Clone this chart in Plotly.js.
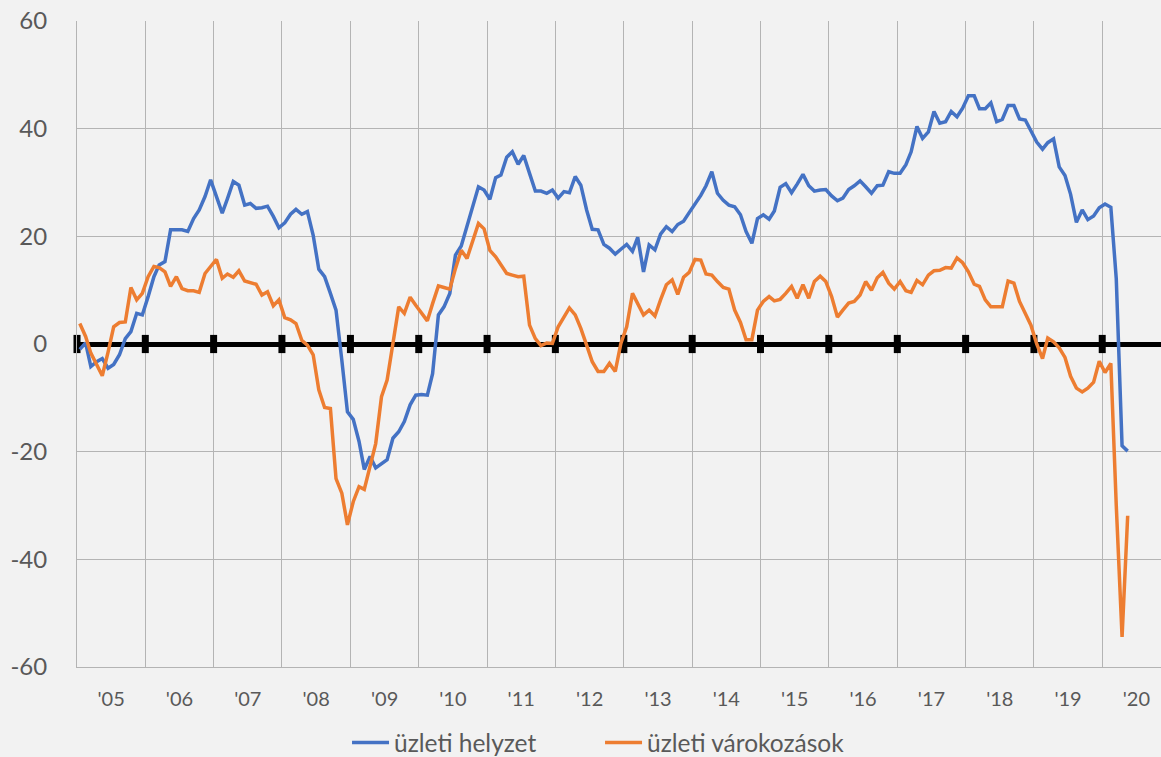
<!DOCTYPE html>
<html>
<head>
<meta charset="utf-8">
<script src="https://cdn.plot.ly/plotly-3.0.1.min.js"></script>
<style>html,body{margin:0;padding:0;background:#f2f2f2}</style>
</head>
<body>
<div id="myDiv" style="width:1161px;height:757px"></div>
<script>
// monthly data, Jan 2005 .. May 2020
var startYear = 2005;

var helyzet = [
  -1.0, 0.2, -4.2, -3.3, -2.7, -4.5, -3.8, -2.0, 1.0, 2.3, 5.7, 5.4,
  8.8, 12.5, 14.7, 15.3, 21.2, 21.2, 21.2, 20.9, 23.3, 24.9, 27.4, 30.5,
  27.3, 24.3, 27.0, 30.2, 29.5, 25.8, 26.1, 25.2, 25.3, 25.6, 23.7, 21.6,
  22.5, 24.1, 25.0, 24.1, 24.6, 20.2, 13.9, 12.5, 9.4, 6.3, -3.0, -12.6,
  -14.0, -18.1, -23.3, -20.9, -23.0, -22.3, -21.5, -17.5, -16.3, -14.4, -11.3, -9.5,
  -9.4, -9.5, -5.5, 5.4, 6.9, 9.4, 16.5, 18.2, 21.8, 25.5, 29.2, 28.6,
  26.9, 30.9, 31.4, 34.7, 35.7, 33.4, 35.0, 31.7, 28.4, 28.4, 28.0, 28.6,
  27.1, 28.3, 28.1, 31.1, 29.5, 24.9, 21.3, 21.2, 18.5, 17.8, 16.7, 17.6,
  18.5, 17.2, 19.8, 13.4, 18.4, 17.5, 20.4, 21.8, 20.9, 22.2, 22.8, 24.4,
  25.9, 27.6, 29.4, 32.0, 28.0, 26.7, 25.8, 25.5, 24.0, 20.9, 18.7, 23.3,
  24.0, 23.2, 24.7, 29.1, 29.8, 28.1, 29.7, 31.5, 29.4, 28.4, 28.6, 28.7,
  27.5, 26.6, 27.1, 28.7, 29.4, 30.3, 29.2, 28.0, 29.4, 29.5, 32.0, 31.7,
  31.7, 33.3, 35.7, 40.4, 38.2, 39.4, 43.2, 41.0, 41.3, 43.2, 42.2, 43.8,
  46.1, 46.1, 43.7, 43.7, 44.8, 41.3, 41.7, 44.3, 44.3, 41.8, 41.6, 39.5,
  37.5, 36.2, 37.4, 38.1, 32.9, 31.3, 27.8, 22.6, 24.9, 23.1, 23.8, 25.3,
  26.0, 25.4, 12.1, -18.9, -19.9
];

var varakozasok = [
  3.8, 1.4, -1.7, -3.9, -5.9, -1.5, 3.2, 4.0, 4.1, 10.5, 8.2, 9.4,
  12.5, 14.4, 14.2, 13.4, 10.7, 12.5, 10.3, 9.9, 9.9, 9.6, 13.1, 14.4,
  15.7, 12.2, 13.0, 12.4, 13.6, 11.7, 11.4, 11.1, 9.1, 9.7, 7.1, 8.2,
  4.9, 4.5, 3.8, 0.7, -0.2, -2.0, -8.5, -11.8, -12.0, -25.0, -27.7, -33.6,
  -29.3, -26.5, -27.0, -22.5, -18.5, -9.8, -6.7, 0.1, 6.9, 5.7, 8.7, 7.2,
  5.7, 4.3, 7.5, 10.8, 10.5, 10.2, 14.0, 17.4, 15.9, 19.3, 22.4, 21.4,
  17.4, 16.2, 14.6, 13.1, 12.8, 12.5, 12.6, 3.5, 1.0, -0.3, 0.2, 0.1,
  3.2, 5.1, 6.7, 5.4, 2.9, -0.2, -3.3, -5.1, -5.1, -3.6, -5.1, 0.1,
  3.2, 9.4, 7.6, 5.4, 6.3, 5.2, 8.2, 11.0, 11.9, 9.2, 12.4, 13.3,
  15.7, 15.6, 13.0, 12.8, 11.6, 10.5, 10.2, 6.3, 4.0, 0.8, 0.8, 6.3,
  7.9, 8.8, 8.0, 8.3, 9.4, 10.7, 8.5, 11.0, 8.5, 11.6, 12.6, 11.6,
  8.8, 5.0, 6.3, 7.6, 7.9, 9.1, 11.6, 10.0, 12.3, 13.3, 11.3, 10.2,
  11.6, 9.9, 9.6, 11.8, 11.0, 12.8, 13.6, 13.7, 14.2, 14.1, 16.0, 15.1,
  13.4, 11.1, 10.7, 8.2, 6.9, 6.9, 6.9, 11.7, 11.3, 7.9, 5.8, 3.5,
  0.0, -2.7, 1.1, 0.4, -0.7, -2.5, -6.0, -8.2, -8.9, -8.2, -7.1, -3.2,
  -5.3, -3.6, -30.0, -54.4, -31.9
];

// year boundaries, marked on the zero line
var yearMarks = ['2005-01-01', '2006-01-01', '2007-01-01', '2008-01-01', '2009-01-01',
  '2010-01-01', '2011-01-01', '2012-01-01', '2013-01-01', '2014-01-01', '2015-01-01',
  '2016-01-01', '2017-01-01', '2018-01-01', '2019-01-01', '2020-01-01'];
var yearMarkVals = yearMarks.map(function () { return 0; });

var yTicks = [-60, -40, -20, 0, 20, 40, 60];
var yTickText = ['-60', '-40', '-20', '0', '20', '40', '60'];

function pad(n) { return n < 10 ? '0' + n : '' + n; }
var months = helyzet.map(function (v, i) {
  return (startYear + Math.floor(i / 12)) + '-' + pad(i % 12 + 1) + '-16';
});

var fontFam = 'Lato, "Open Sans", sans-serif';
var gridCol = '#b4b4b4';

var marks = {
  x: yearMarks,
  y: yearMarkVals,
  mode: 'markers',
  marker: {symbol: 'line-ns-open', size: 13, color: '#000', line: {width: 7, color: '#000'}},
  cliponaxis: false,
  showlegend: false,
  hoverinfo: 'skip'
};

var trace1 = {
  x: months,
  y: helyzet,
  mode: 'lines',
  name: 'üzleti helyzet',
  line: {color: '#4472c4', width: 3.5}
};

var trace2 = {
  x: months,
  y: varakozasok,
  mode: 'lines',
  name: 'üzleti várokozások',
  line: {color: '#ed7d31', width: 3.5}
};

var layout = {
  width: 1161,
  height: 757,
  paper_bgcolor: '#f2f2f2',
  plot_bgcolor: '#f2f2f2',
  margin: {l: 77, r: 0, t: 21, b: 90, autoexpand: false},
  font: {family: fontFam, color: '#595959'},
  showlegend: true,
  legend: {
    orientation: 'h',
    x: 0.4825,
    xanchor: 'center',
    y: -0.117,
    yanchor: 'middle',
    itemwidth: 37,
    entrywidth: 201,
    entrywidthmode: 'pixels',
    font: {size: 24.5, color: '#595959', family: fontFam},
    bgcolor: 'rgba(0,0,0,0)'
  },
  xaxis: {
    type: 'date',
    range: ['2005-01-01', '2020-11-10'],
    tick0: '2005-01-01',
    dtick: 'M12',
    tickformat: "'%y",
    ticklabelmode: 'period',
    showgrid: true,
    gridcolor: gridCol,
    gridwidth: 1,
    showline: true,
    linecolor: gridCol,
    linewidth: 1,
    ticks: 'outside',
    ticklen: 14,
    tickcolor: 'rgba(0,0,0,0)',
    tickfont: {size: 20, color: '#595959'},
    zeroline: false
  },
  yaxis: {
    range: [-60, 60],
    tickmode: 'array',
    tickvals: yTicks,
    ticktext: yTickText,
    showgrid: true,
    gridcolor: gridCol,
    gridwidth: 1,
    showline: true,
    linecolor: gridCol,
    linewidth: 1,
    zeroline: true,
    zerolinecolor: '#000',
    zerolinewidth: 5,
    ticks: 'outside',
    ticklen: 24,
    tickcolor: 'rgba(0,0,0,0)',
    tickfont: {size: 24, color: '#595959'}
  }
};

Plotly.newPlot('myDiv', [marks, trace1, trace2], layout, {staticPlot: true});
</script>
</body>
</html>
